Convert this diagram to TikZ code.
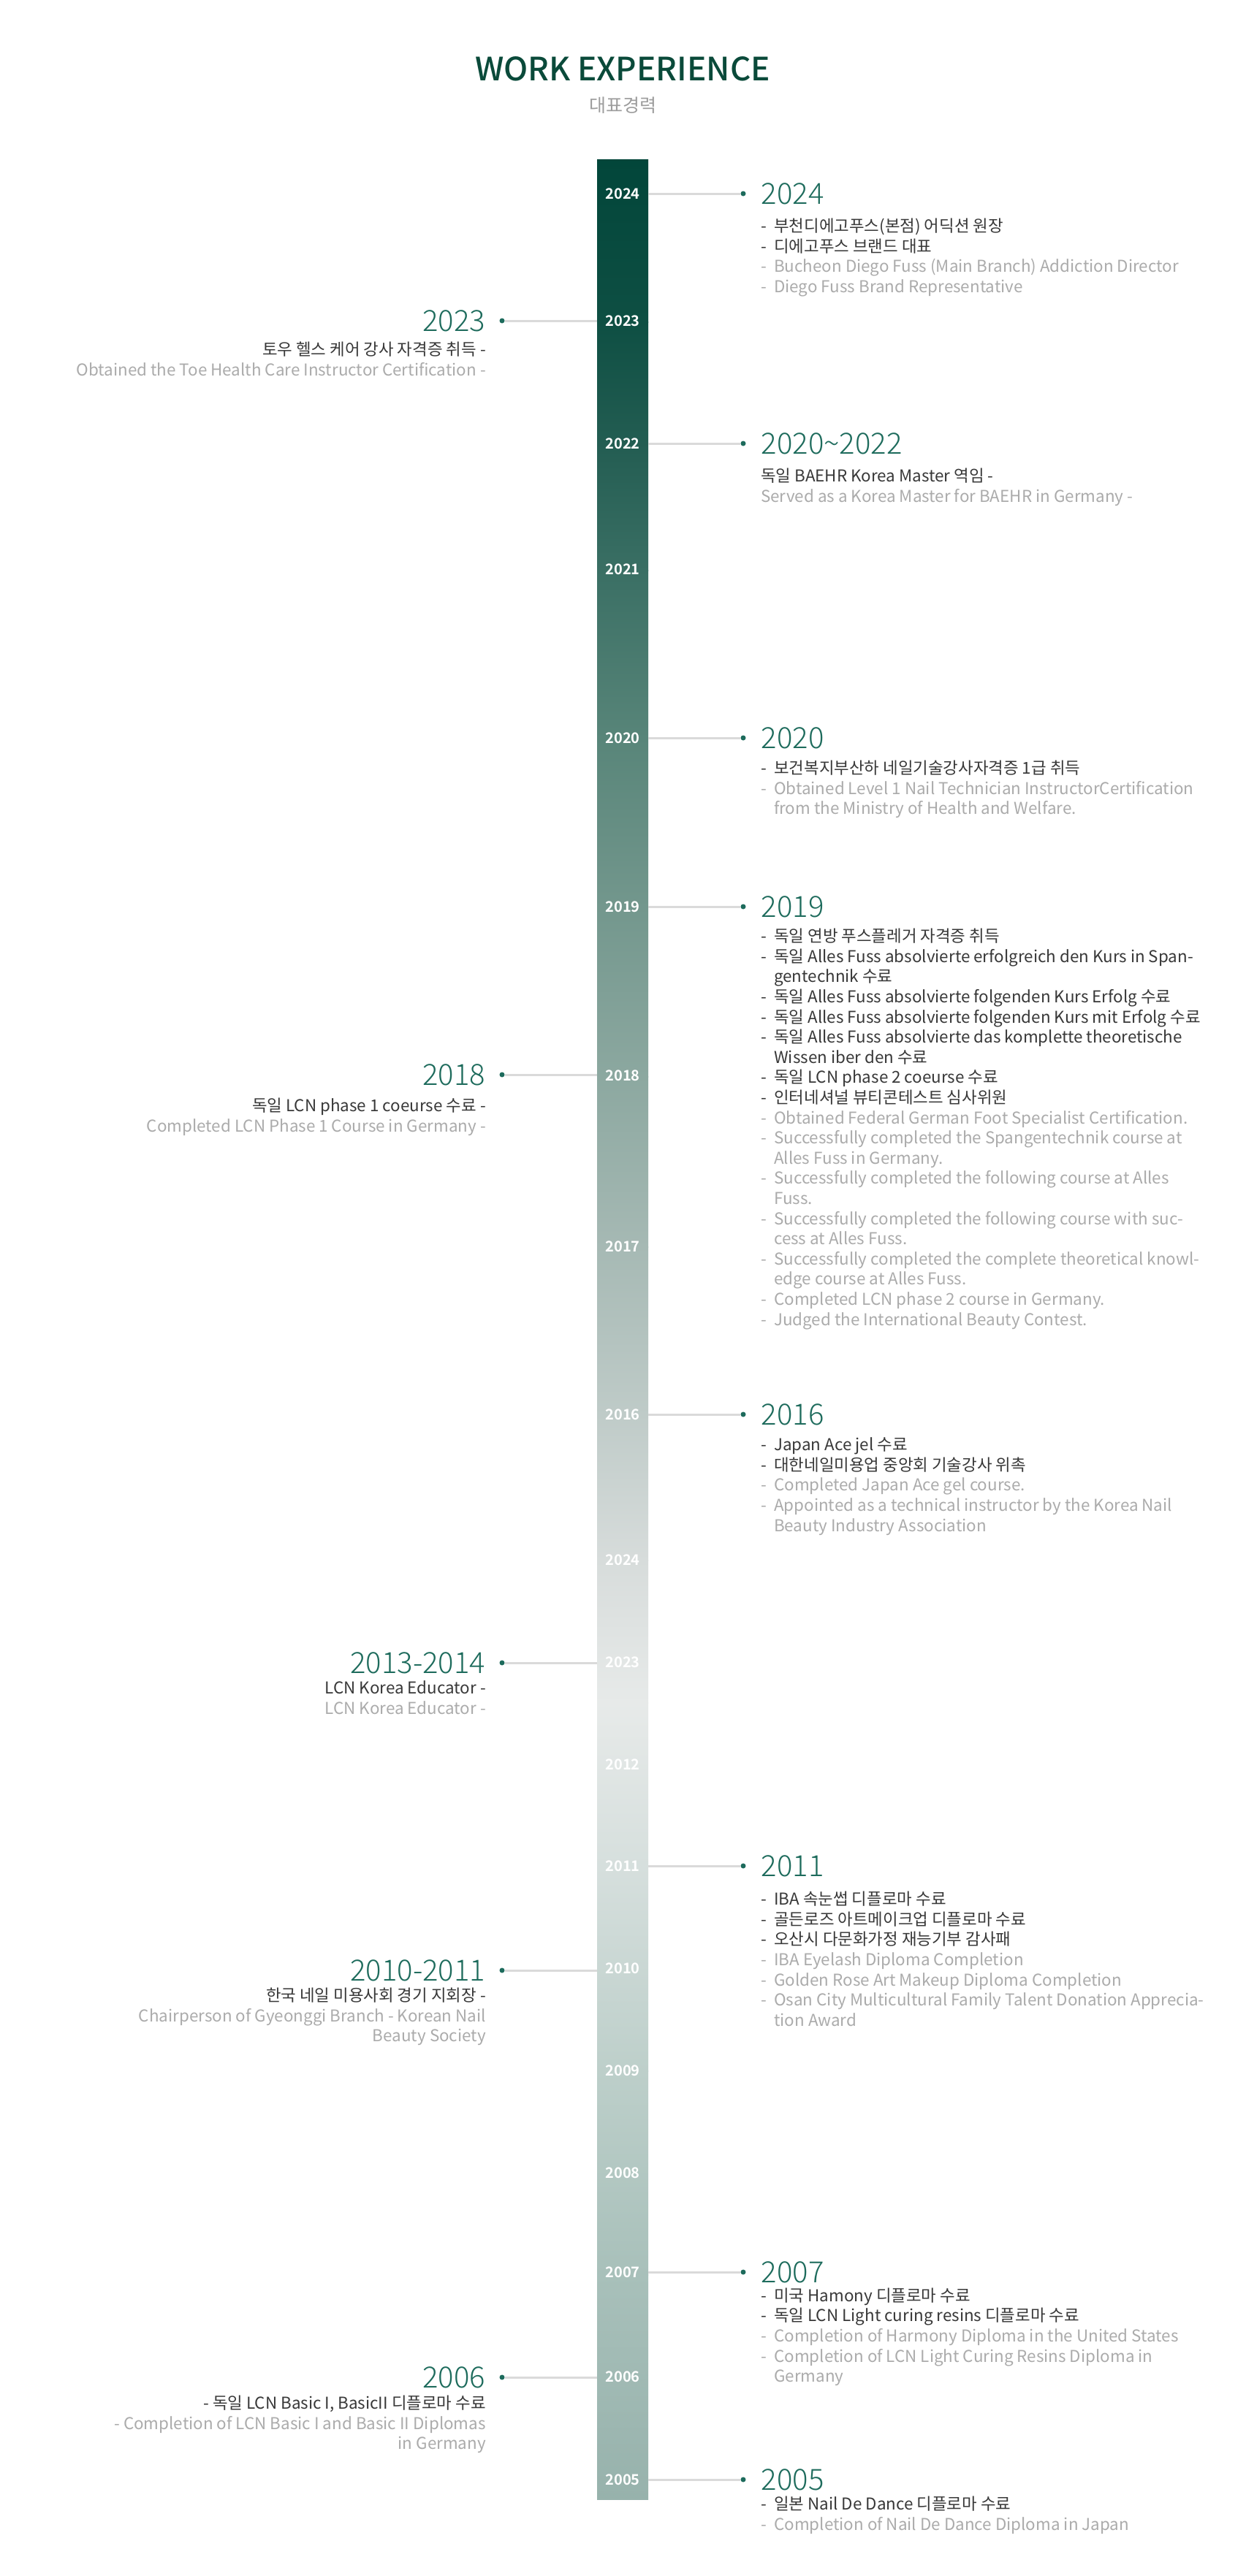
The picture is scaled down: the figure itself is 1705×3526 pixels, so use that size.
\documentclass[tikz,border=0pt]{standalone}
\usepackage{fontspec}
\setmainfont{Noto Sans CJK KR}
\IfFontExistsTF{Noto Sans CJK KR Light}{\newfontfamily\yearfont{Noto Sans CJK KR Light}}{\newfontfamily\yearfont{Noto Sans CJK KR}}
\IfFontExistsTF{Noto Sans CJK KR Medium}{\newfontfamily\medfont{Noto Sans CJK KR Medium}}{\newfontfamily\medfont{Noto Sans CJK KR}}
\IfFontExistsTF{Noto Sans CJK KR Bold}{\newfontfamily\barfont{Noto Sans CJK KR Bold}}{\newfontfamily\barfont{Noto Sans CJK KR}[FakeBold=1.2]}
\usetikzlibrary{positioning}

\definecolor{titleGreen}{HTML}{0A4A3A}
\definecolor{yearGreen}{HTML}{1D6B5C}
\definecolor{subGray}{HTML}{9C9C9C}
\definecolor{korText}{HTML}{383838}
\definecolor{engText}{HTML}{ABABAB}
\definecolor{connGray}{HTML}{DADADA}
% bar gradient stops
\definecolor{bar0}{HTML}{02463A}
\definecolor{bar1}{HTML}{0E4F43}
\definecolor{bar2}{HTML}{235D52}
\definecolor{bar3}{HTML}{3A6F64}
\definecolor{bar4}{HTML}{588579}
\definecolor{bar5}{HTML}{73978D}
\definecolor{bar6}{HTML}{8CA8A0}
\definecolor{bar7}{HTML}{A6B9B4}
\definecolor{bar8}{HTML}{BFCBC8}
\definecolor{bar9}{HTML}{D7DCDB}
\definecolor{bar10}{HTML}{E7EAE9}
\definecolor{bar11}{HTML}{D6DFDD}
\definecolor{bar12}{HTML}{BDCFCA}
\definecolor{bar13}{HTML}{A8C0BA}
\definecolor{bar14}{HTML}{97B2AC}

\newcommand{\fs}{\vrule height 21pt width 0pt}
\newcommand{\dl}{\makebox[18pt][l]{-}}
\newcommand{\hl}{\hspace*{18pt}}
\newcommand{\grayln}[1]{\textcolor{engText}{#1}}

\tikzset{
    bar label/.style={text=white, inner sep=0, font=\barfont\fontsize{20}{22}\selectfont},
    conn/.style={draw=connGray, line width=3pt},
    dot/.style={circle, fill=yearGreen, inner sep=0, minimum size=7pt},
    year R/.style={anchor=west, text=yearGreen, inner sep=0, font=\yearfont\fontsize{40}{44}\selectfont},
    year L/.style={anchor=east, text=yearGreen, inner sep=0, font=\yearfont\fontsize{40}{44}\selectfont},
    items R/.style={anchor=north west, align=left, inner sep=0, text=korText, font=\fontsize{22.4}{27.6}\selectfont},
    items L/.style={anchor=north east, align=right, inner sep=0, text=korText, font=\fontsize{22.4}{27.6}\selectfont}
}

\begin{document}
\begin{tikzpicture}[x=1pt, y=-1pt]
    \fill[white] (0,0) rectangle (1705,3526);
    \useasboundingbox (0,0) rectangle (1705,3526);

    % Heading
    \node (title) [text=titleGreen, font=\medfont\fontsize{44}{48}\selectfont] at (852,94) {WORK EXPERIENCE};
    \node (subtitle) [text=subGray, font=\fontsize{25}{28}\selectfont] at (852,144) {대표경력};

    % Bar
    \foreach \ya/\yb/\ca/\cb in {218/440/bar0/bar1, 440/607/bar1/bar2, 607/780/bar2/bar3,
        780/1010/bar3/bar4, 1010/1241/bar4/bar5, 1241/1473/bar5/bar6, 1473/1706/bar6/bar7,
        1706/1936/bar7/bar8, 1936/2135/bar8/bar9, 2135/2330/bar9/bar10, 2330/2553/bar10/bar11,
        2553/2834/bar11/bar12, 2834/3113/bar12/bar13}
        \shade[top color=\ca, bottom color=\cb] (817,\ya) rectangle (887,\yb+1);
    \shade[top color=bar13, bottom color=bar14] (817,3113) rectangle (887,3421);

    \foreach \yr/\yy [count=\i] in {2024/265, 2023/439, 2022/607, 2021/779, 2020/1010, 2019/1241,
        2018/1472, 2017/1706, 2016/1936, 2024/2135, 2023/2275, 2012/2415, 2011/2554,
        2010/2694, 2009/2834, 2008/2974, 2007/3110, 2006/3253, 2005/3394}
        \node (bar_\i) [bar label] at (852,\yy) {\yr};

    % 2024
    \coordinate (R2024_tick) at (887,265);
    \node (R2024_dot) [dot] at (1017,265) {};
    \draw[conn] (R2024_tick) -- (R2024_dot);
    \node (R2024_year) [year R, right=21pt of R2024_dot] {2024};
    \node (R2024_items) [items R] at (1041,296.5) {\fs\dl 부천디에고푸스(본점) 어딕션 원장\\
        \dl 디에고푸스 브랜드 대표\\
        \grayln{\dl Bucheon Diego Fuss (Main Branch) Addiction Director}\\
        \grayln{\dl Diego Fuss Brand Representative}};

    % 2023
    \coordinate (L2023_tick) at (817,439);
    \node (L2023_dot) [dot] at (687,439) {};
    \draw[conn] (L2023_tick) -- (L2023_dot);
    \node (L2023_year) [year L, left=19pt of L2023_dot] {2023};
    \node (L2023_items) [items L] at (665,465.5) {\fs 토우 헬스 케어 강사 자격증 취득 -\\
        \grayln{Obtained the Toe Health Care Instructor Certification -}};

    % 2020~2022
    \coordinate (R2022_tick) at (887,607);
    \node (R2022_dot) [dot] at (1017,607) {};
    \draw[conn] (R2022_tick) -- (R2022_dot);
    \node (R2022_year) [year R, right=21pt of R2022_dot] {2020\textasciitilde 2022};
    \node (R2022_items) [items R] at (1041,638.5) {\fs 독일 BAEHR Korea Master 역임 -\\
        \grayln{Served as a Korea Master for BAEHR in Germany -}};

    % 2020
    \coordinate (R2020_tick) at (887,1010);
    \node (R2020_dot) [dot] at (1017,1010) {};
    \draw[conn] (R2020_tick) -- (R2020_dot);
    \node (R2020_year) [year R, right=21pt of R2020_dot] {2020};
    \node (R2020_items) [items R] at (1041,1038.5) {\fs\dl 보건복지부산하 네일기술강사자격증 1급 취득\\
        \grayln{\dl Obtained Level 1 Nail Technician InstructorCertification}\\
        \grayln{\hl from the Ministry of Health and Welfare.}};

    % 2019
    \coordinate (R2019_tick) at (887,1241);
    \node (R2019_dot) [dot] at (1017,1241) {};
    \draw[conn] (R2019_tick) -- (R2019_dot);
    \node (R2019_year) [year R, right=21pt of R2019_dot] {2019};
    \node (R2019_items) [items R] at (1041,1268.5) {\fs\dl 독일 연방 푸스플레거 자격증 취득\\
        \dl 독일 Alles Fuss absolvierte erfolgreich den Kurs in Span-\\
        \hl gentechnik 수료\\
        \dl 독일 Alles Fuss absolvierte folgenden Kurs Erfolg 수료\\
        \dl 독일 Alles Fuss absolvierte folgenden Kurs mit Erfolg 수료\\
        \dl 독일 Alles Fuss absolvierte das komplette theoretische\\
        \hl Wissen iber den 수료\\
        \dl 독일 LCN phase 2 coeurse 수료\\
        \dl 인터네셔널 뷰티콘테스트 심사위원\\
        \grayln{\dl Obtained Federal German Foot Specialist Certification.}\\
        \grayln{\dl Successfully completed the Spangentechnik course at}\\
        \grayln{\hl Alles Fuss in Germany.}\\
        \grayln{\dl Successfully completed the following course at Alles}\\
        \grayln{\hl Fuss.}\\
        \grayln{\dl Successfully completed the following course with suc-}\\
        \grayln{\hl cess at Alles Fuss.}\\
        \grayln{\dl Successfully completed the complete theoretical knowl-}\\
        \grayln{\hl edge course at Alles Fuss.}\\
        \grayln{\dl Completed LCN phase 2 course in Germany.}\\
        \grayln{\dl Judged the International Beauty Contest.}};

    % 2018
    \coordinate (L2018_tick) at (817,1471);
    \node (L2018_dot) [dot] at (687,1471) {};
    \draw[conn] (L2018_tick) -- (L2018_dot);
    \node (L2018_year) [year L, left=19pt of L2018_dot] {2018};
    \node (L2018_items) [items L] at (665,1500.5) {\fs 독일 LCN phase 1 coeurse 수료 -\\
        \grayln{Completed LCN Phase 1 Course in Germany -}};

    % 2016
    \coordinate (R2016_tick) at (887,1936);
    \node (R2016_dot) [dot] at (1017,1936) {};
    \draw[conn] (R2016_tick) -- (R2016_dot);
    \node (R2016_year) [year R, right=21pt of R2016_dot] {2016};
    \node (R2016_items) [items R] at (1041,1964.5) {\fs\dl Japan Ace jel 수료\\
        \dl 대한네일미용업 중앙회 기술강사 위촉\\
        \grayln{\dl Completed Japan Ace gel course.}\\
        \grayln{\dl Appointed as a technical instructor by the Korea Nail}\\
        \grayln{\hl Beauty Industry Association}};

    % 2013-2014
    \coordinate (L2014_tick) at (817,2276);
    \node (L2014_dot) [dot] at (687,2276) {};
    \draw[conn] (L2014_tick) -- (L2014_dot);
    \node (L2014_year) [year L, left=19pt of L2014_dot] {2013-2014};
    \node (L2014_items) [items L] at (665,2297.5) {\fs LCN Korea Educator -\\
        \grayln{LCN Korea Educator -}};

    % 2011
    \coordinate (R2011_tick) at (887,2554);
    \node (R2011_dot) [dot] at (1017,2554) {};
    \draw[conn] (R2011_tick) -- (R2011_dot);
    \node (R2011_year) [year R, right=21pt of R2011_dot] {2011};
    \node (R2011_items) [items R] at (1041,2586.5) {\fs\dl IBA 속눈썹 디플로마 수료\\
        \dl 골든로즈 아트메이크업 디플로마 수료\\
        \dl 오산시 다문화가정 재능기부 감사패\\
        \grayln{\dl IBA Eyelash Diploma Completion}\\
        \grayln{\dl Golden Rose Art Makeup Diploma Completion}\\
        \grayln{\dl Osan City Multicultural Family Talent Donation Apprecia-}\\
        \grayln{\hl tion Award}};

    % 2010-2011
    \coordinate (L2011_tick) at (817,2697);
    \node (L2011_dot) [dot] at (687,2697) {};
    \draw[conn] (L2011_tick) -- (L2011_dot);
    \node (L2011_year) [year L, left=19pt of L2011_dot] {2010-2011};
    \node (L2011_items) [items L] at (665,2718.5) {\fs 한국 네일 미용사회 경기 지회장 -\\
        \grayln{Chairperson of Gyeonggi Branch - Korean Nail}\\
        \grayln{Beauty Society}};

    % 2007
    \coordinate (R2007_tick) at (887,3110);
    \node (R2007_dot) [dot] at (1017,3110) {};
    \draw[conn] (R2007_tick) -- (R2007_dot);
    \node (R2007_year) [year R, right=21pt of R2007_dot] {2007};
    \node (R2007_items) [items R] at (1041,3129) {\fs\dl 미국 Hamony 디플로마 수료\\
        \dl 독일 LCN Light curing resins 디플로마 수료\\
        \grayln{\dl Completion of Harmony Diploma in the United States}\\
        \grayln{\dl Completion of LCN Light Curing Resins Diploma in}\\
        \grayln{\hl Germany}};

    % 2006
    \coordinate (L2006_tick) at (817,3254);
    \node (L2006_dot) [dot] at (687,3254) {};
    \draw[conn] (L2006_tick) -- (L2006_dot);
    \node (L2006_year) [year L, left=19pt of L2006_dot] {2006};
    \node (L2006_items) [items L] at (665,3276.5) {\fs - 독일 LCN Basic I, BasicII 디플로마 수료\\
        \grayln{- Completion of LCN Basic I and Basic II Diplomas}\\
        \grayln{in Germany}};

    % 2005
    \coordinate (R2005_tick) at (887,3394);
    \node (R2005_dot) [dot] at (1017,3394) {};
    \draw[conn] (R2005_tick) -- (R2005_dot);
    \node (R2005_year) [year R, right=21pt of R2005_dot] {2005};
    \node (R2005_items) [items R] at (1041,3414.5) {\fs\dl 일본 Nail De Dance 디플로마 수료\\
        \grayln{\dl Completion of Nail De Dance Diploma in Japan}};
\end{tikzpicture}
\end{document}
